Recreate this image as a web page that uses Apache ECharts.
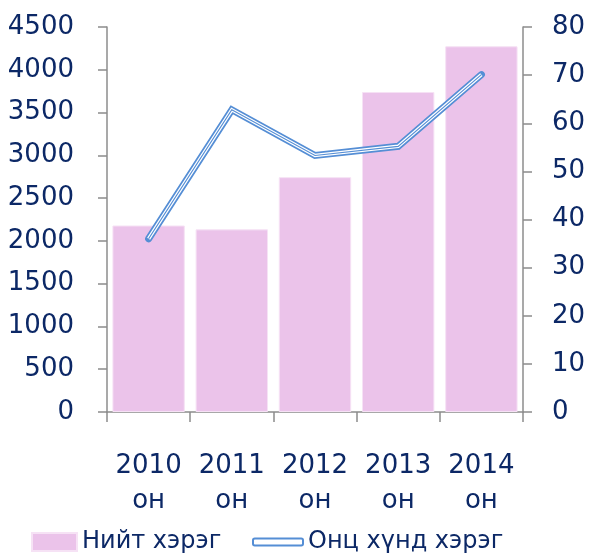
<!DOCTYPE html>
<html>
<head>
<meta charset="utf-8">
<script src="https://cdn.jsdelivr.net/npm/echarts@6/dist/echarts.min.js"></script>
<style>
  html, body { margin: 0; padding: 0; background: #fff; }
  #main { width: 590px; height: 554px; }
</style>
</head>
<body>
<div id="main"></div>
<script>
const years = ['2010\nон', '2011\nон', '2012\nон', '2013\nон', '2014\nон'];
const total_cases = [2180, 2135, 2745, 3740, 4275];
const serious_cases = [36, 62.8, 53.3, 55.2, 70.1];
const left_ticks = [0, 4500, 500];
const right_ticks = [0, 80, 10];

const text_color = '#0C2866';
const axis_color = '#8C8C8C';
const line_color = '#558ED5';
const font = 'DejaVu Sans';

let chart = echarts.init(document.getElementById('main'));

// Excel "double" line: blue stroke, white gap, thin blue core
function line_layer(name, color, width, z, cap) {
    return {
        name: name,
        type: 'line',
        yAxisIndex: 1,
        data: serious_cases,
        symbol: 'none',
        silent: name !== 'Онц хүнд хэрэг',
        z: z,
        lineStyle: { color: color, width: width, cap: cap, join: 'miter' },
        itemStyle: { color: line_color }
    };
}

let option = {
    animation: false,
    textStyle: { fontFamily: font },
    grid: { left: 107, right: 67, top: 27, bottom: 142 },
    legend: [
        {
            left: 26, top: 522,
            itemWidth: 45, itemHeight: 18, icon: 'rect',
            textStyle: { fontSize: 24, lineHeight: 30, color: text_color, fontFamily: font },
            data: ['Нийт хэрэг']
        },
        {
            left: 247, top: 522,
            itemWidth: 50, itemHeight: 7, icon: 'roundRect',
            textStyle: { fontSize: 24, lineHeight: 30, color: text_color, fontFamily: font },
            data: [{
                name: 'Онц хүнд хэрэг',
                itemStyle: { color: '#fff', borderColor: line_color, borderWidth: 2 }
            }]
        }
    ],
    xAxis: {
        type: 'category',
        data: years,
        axisLine: { lineStyle: { color: axis_color, width: 1.5 } },
        axisTick: { show: true, interval: 0, length: 10, lineStyle: { color: axis_color, width: 1.5 } },
        axisLabel: {
            interval: 0,
            color: text_color, fontSize: 26, lineHeight: 35, margin: 37,
            fontFamily: font
        }
    },
    yAxis: [
        {
            type: 'value',
            min: left_ticks[0], max: left_ticks[1], interval: left_ticks[2],
            splitLine: { show: false },
            axisLine: { show: true, lineStyle: { color: axis_color, width: 1.5 } },
            axisTick: { show: true, length: 9, lineStyle: { color: axis_color, width: 1.5 } },
            axisLabel: {
                color: text_color, fontSize: 26, margin: 33, fontFamily: font,
                formatter: (v) => String(v)
            }
        },
        {
            type: 'value',
            min: right_ticks[0], max: right_ticks[1], interval: right_ticks[2],
            splitLine: { show: false },
            axisLine: { show: true, lineStyle: { color: axis_color, width: 1.5 } },
            axisTick: { show: true, length: 9, lineStyle: { color: axis_color, width: 1.5 } },
            axisLabel: {
                color: text_color, fontSize: 26, margin: 29, fontFamily: font,
                formatter: (v) => String(v)
            }
        }
    ],
    series: [
        {
            name: 'Нийт хэрэг',
            type: 'bar',
            data: total_cases,
            barCategoryGap: '13%',
            itemStyle: { color: '#EBC3EA', borderColor: '#F6E2F5', borderWidth: 1 }
        },
        line_layer('Онц хүнд хэрэг', line_color, 7, 3, 'round'),
        line_layer('gap', '#ffffff', 3.5, 4, 'butt'),
        line_layer('core', line_color, 1.2, 5, 'butt')
    ]
};

chart.setOption(option);
</script>
</body>
</html>
